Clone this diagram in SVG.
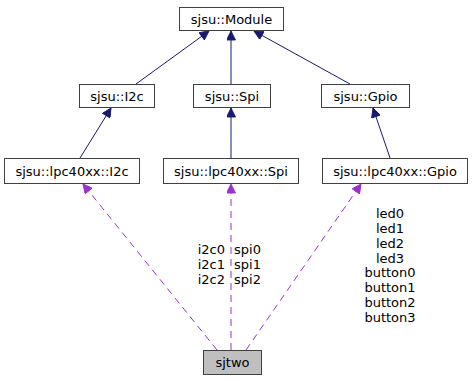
<svg xmlns="http://www.w3.org/2000/svg" width="473" height="381" viewBox="0 0 473 381">
<style>
  text { font-family: "DejaVu Sans", sans-serif; font-size: 13px; fill: #000; }
  .box { fill: #fff; stroke: #404040; stroke-width: 1; }
  .self { fill: #bfbfbf; stroke: #404040; stroke-width: 1; }
  .inh { stroke: #191970; stroke-width: 1; fill: none; }
  .use { stroke: #9a32cd; stroke-width: 1; fill: none; stroke-dasharray: 7,5; }
</style>
<defs>
  <marker id="ah-inh" viewBox="0 0 10 10" refX="10" refY="5" markerWidth="11" markerHeight="9" markerUnits="userSpaceOnUse" orient="auto">
    <path d="M0,0 L10,5 L0,10 Z" fill="#191970" stroke="#191970"/>
  </marker>
  <marker id="ah-use" viewBox="0 0 10 10" refX="10" refY="5" markerWidth="11" markerHeight="9" markerUnits="userSpaceOnUse" orient="auto">
    <path d="M0,0 L10,5 L0,10 Z" fill="#9a32cd" stroke="#9a32cd"/>
  </marker>
</defs>

<g id="edges">
  <line class="inh" x1="136" y1="84" x2="209" y2="31" marker-end="url(#ah-inh)"/>
  <line class="inh" x1="231" y1="84" x2="231" y2="31" marker-end="url(#ah-inh)"/>
  <line class="inh" x1="350" y1="84" x2="254" y2="31" marker-end="url(#ah-inh)"/>
  <line class="inh" x1="80" y1="158" x2="111" y2="108" marker-end="url(#ah-inh)"/>
  <line class="inh" x1="231" y1="158" x2="231" y2="108" marker-end="url(#ah-inh)"/>
  <line class="inh" x1="390" y1="158" x2="373" y2="108" marker-end="url(#ah-inh)"/>
  <line class="use" x1="217" y1="350" x2="83" y2="184" marker-end="url(#ah-use)"/>
  <line class="use" x1="231" y1="350" x2="231" y2="184" marker-end="url(#ah-use)"/>
  <line class="use" x1="246" y1="350" x2="361" y2="184" marker-end="url(#ah-use)"/>
  <g id="edge-labels">
    <text x="225" y="254" text-anchor="end">i2c0</text>
    <text x="225" y="269" text-anchor="end">i2c1</text>
    <text x="225" y="284" text-anchor="end">i2c2</text>
    <text x="234" y="254">spi0</text>
    <text x="234" y="269">spi1</text>
    <text x="234" y="284">spi2</text>
    <text x="390" y="218" text-anchor="middle">led0</text>
    <text x="390" y="233" text-anchor="middle">led1</text>
    <text x="390" y="248" text-anchor="middle">led2</text>
    <text x="390" y="263" text-anchor="middle">led3</text>
    <text x="390" y="277" text-anchor="middle">button0</text>
    <text x="390" y="292" text-anchor="middle">button1</text>
    <text x="390" y="307" text-anchor="middle">button2</text>
    <text x="390" y="322" text-anchor="middle">button3</text>
  </g>
</g>

<g id="node-module">
  <rect class="box" x="179.5" y="7.5" width="104" height="23"/>
  <text x="231.5" y="23.5" text-anchor="middle">sjsu::Module</text>
</g>
<g id="node-i2c">
  <rect class="box" x="79.5" y="84.5" width="75" height="23"/>
  <text x="117" y="100.5" text-anchor="middle">sjsu::I2c</text>
</g>
<g id="node-spi">
  <rect class="box" x="193.5" y="84.5" width="77" height="23"/>
  <text x="232" y="100.5" text-anchor="middle">sjsu::Spi</text>
</g>
<g id="node-gpio">
  <rect class="box" x="321.5" y="84.5" width="88" height="23"/>
  <text x="365.5" y="100.5" text-anchor="middle">sjsu::Gpio</text>
</g>
<g id="node-lpc-i2c">
  <rect class="box" x="4.5" y="158.5" width="135" height="25"/>
  <text x="72" y="175.5" text-anchor="middle">sjsu::lpc40xx::I2c</text>
</g>
<g id="node-lpc-spi">
  <rect class="box" x="163.5" y="158.5" width="135" height="25"/>
  <text x="231" y="175.5" text-anchor="middle">sjsu::lpc40xx::Spi</text>
</g>
<g id="node-lpc-gpio">
  <rect class="box" x="322.5" y="158.5" width="145" height="25"/>
  <text x="395" y="175.5" text-anchor="middle">sjsu::lpc40xx::Gpio</text>
</g>
<g id="node-sjtwo">
  <rect class="self" x="203.5" y="350.5" width="58" height="24"/>
  <text x="232.5" y="367" text-anchor="middle">sjtwo</text>
</g>
</svg>
